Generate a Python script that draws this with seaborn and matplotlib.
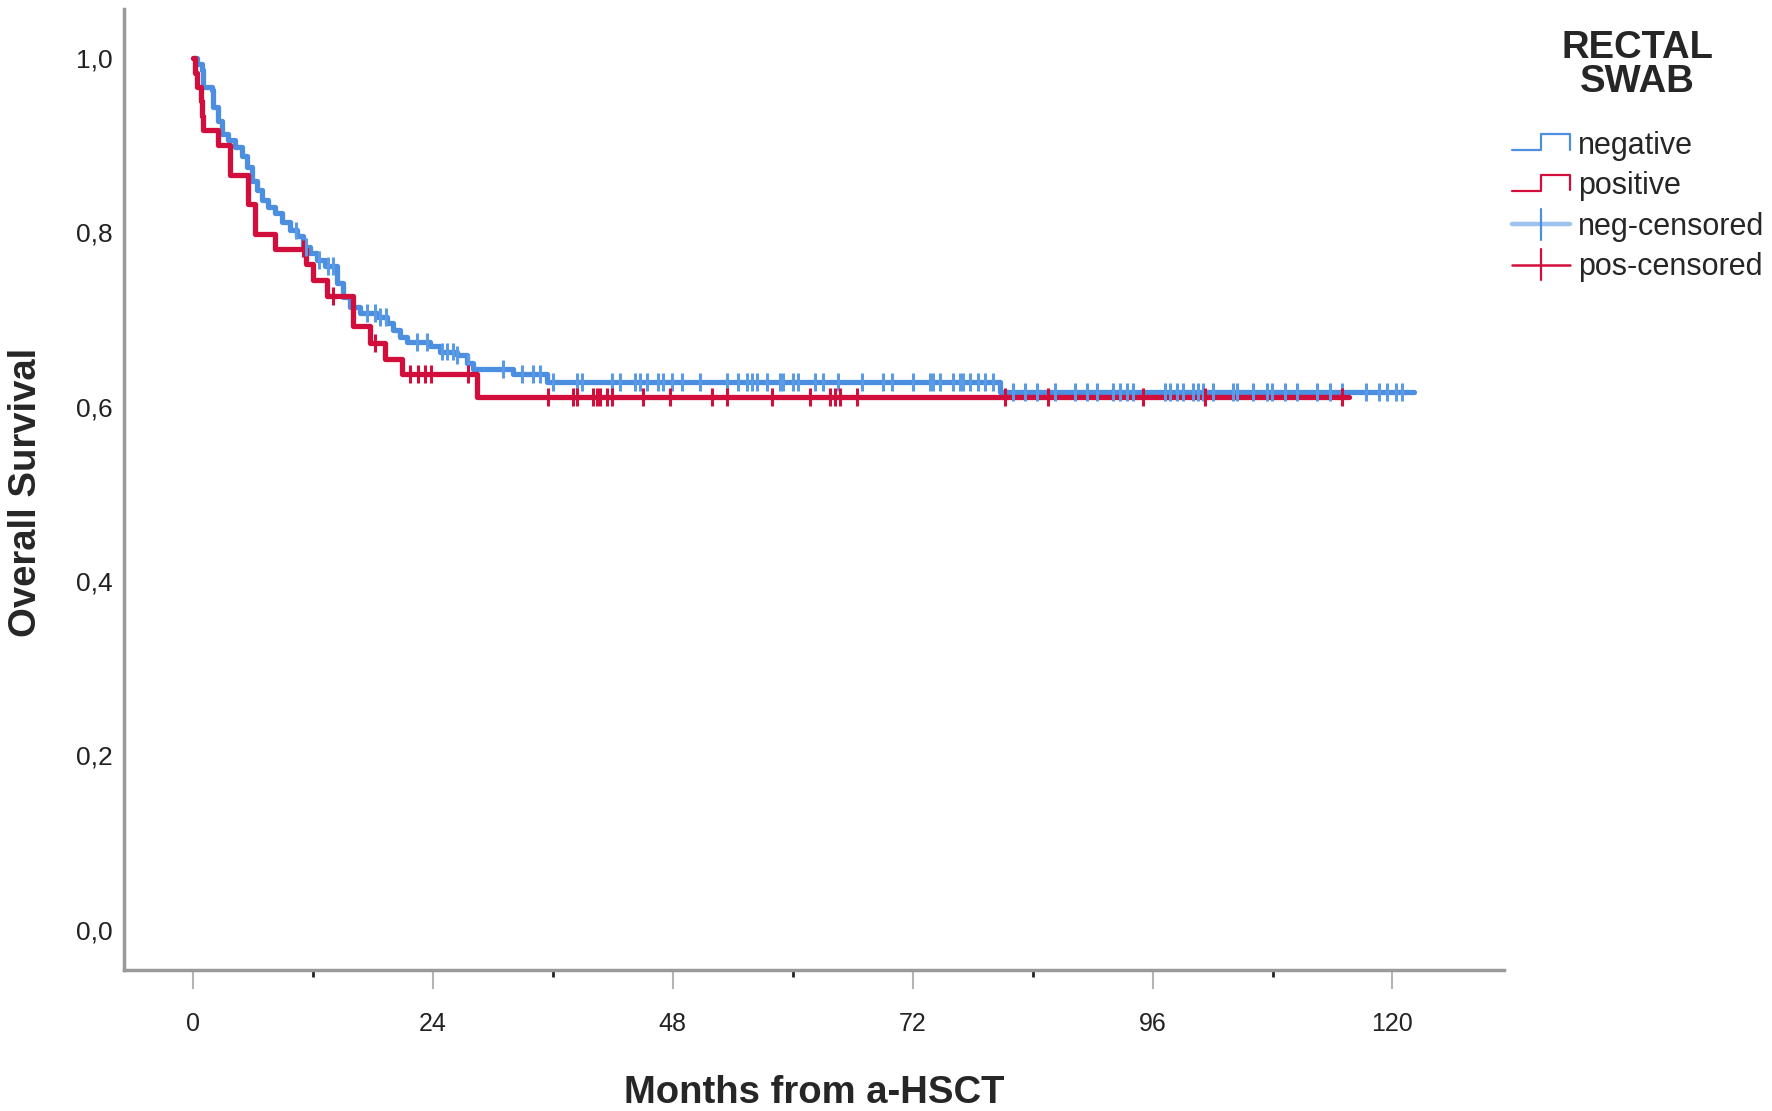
import numpy as np
import pandas as pd
import matplotlib
matplotlib.use('Agg')
import matplotlib.pyplot as plt
from matplotlib.lines import Line2D
from matplotlib.legend_handler import HandlerBase
import seaborn as sns

# ------------------- data -------------------
groups = ['negative', 'positive']

# rectal swab negative: step times (months) and survival after each step
neg_time = [0, 0.4, 0.9, 1.0, 1.9, 2.0, 2.5, 2.9, 3.5, 4.2, 4.9, 5.4, 5.9, 6.4,
            6.9, 7.5, 8.2, 8.9, 9.7, 10.4, 11.0, 11.7, 12.4, 13.2, 14.4, 15.0,
            15.7, 16.7, 18.4, 19.4, 20.0, 20.7, 21.4, 23.7, 24.7, 26.4, 27.4,
            28.0, 32.0, 35.4, 80.7]
neg_surv = [1.0, 0.993, 0.986, 0.967, 0.963, 0.944, 0.928, 0.913, 0.906, 0.898,
            0.887, 0.875, 0.859, 0.848, 0.837, 0.829, 0.822, 0.812, 0.802, 0.795,
            0.783, 0.776, 0.768, 0.761, 0.742, 0.726, 0.714, 0.707, 0.703, 0.696,
            0.688, 0.680, 0.674, 0.669, 0.663, 0.659, 0.650, 0.643, 0.637, 0.628,
            0.617]
neg_end = 122.2

# rectal swab positive
pos_time = [0, 0.2, 0.4, 0.8, 0.9, 1.0, 2.5, 3.7, 5.5, 6.2, 8.2, 11.3, 12.0,
            13.4, 16.0, 17.7, 19.2, 20.9, 28.4]
pos_surv = [1.0, 0.983, 0.967, 0.950, 0.933, 0.917, 0.900, 0.866, 0.832, 0.798,
            0.781, 0.764, 0.745, 0.727, 0.692, 0.673, 0.655, 0.637, 0.611]
pos_end = 115.7

# censored observations (months)
neg_censor = [10.3, 11.3, 12.6, 13.5, 14.0, 17.4, 18.2, 18.7, 19.3, 22.4, 23.4,
              24.9, 25.4, 26.0, 26.4, 27.5, 31.0, 32.9, 34.0, 34.7, 36.0, 38.4,
              38.9, 41.9, 42.7, 44.2, 44.7, 45.4, 46.5, 47.0, 47.9, 48.9, 50.7,
              53.4, 54.5, 55.4, 55.9, 56.4, 57.4, 58.7, 59.0, 60.0, 60.5, 62.2,
              63.0, 64.5, 66.9, 69.0, 69.9, 72.0, 73.7, 74.0, 74.7, 76.0, 76.7,
              77.0, 77.7, 78.5, 79.2, 80.0, 82.0, 83.2, 84.4, 86.2, 88.2, 89.4,
              90.4, 92.0, 92.7, 93.4, 94.0, 97.2, 97.7, 98.4, 99.0, 100.0, 100.5,
              101.0, 102.0, 104.0, 104.4, 106.0, 107.4, 107.9, 109.2, 110.4,
              112.4, 113.7, 115.0, 117.4, 118.7, 119.5, 120.4, 121.0]
pos_censor = [11.0, 14.0, 18.2, 21.7, 22.5, 23.2, 23.8, 27.5, 35.5, 38.0, 38.4,
              40.0, 40.4, 40.7, 41.4, 41.9, 45.0, 47.7, 51.9, 53.4, 57.9, 61.7,
              63.7, 64.2, 64.7, 66.4, 81.2, 85.5, 95.0, 101.2, 114.9]

x_ticks = [0, 24, 48, 72, 96, 120]
x_minor = [12, 36, 60, 84, 108]
y_ticks = [0.0, 0.2, 0.4, 0.6, 0.8, 1.0]
legend_labels = ['negative', 'positive', 'neg-censored', 'pos-censored']

BLUE = '#4C8FE0'
LIGHT_BLUE = '#9CC3EF'
RED = '#D20F3C'


def curve_frame(times, surv, end, name):
    t = list(times) + [end]
    s = list(surv) + [surv[-1]]
    return pd.DataFrame({'time': t, 'surv': s, 'group': name})


def censor_frame(times, surv, cens, name):
    idx = np.searchsorted(times, cens, side='right') - 1
    return pd.DataFrame({'time': cens, 'surv': np.asarray(surv)[idx], 'group': name})


curves = pd.concat([curve_frame(neg_time, neg_surv, neg_end, groups[0]),
                    curve_frame(pos_time, pos_surv, pos_end, groups[1])])
censors = pd.concat([censor_frame(neg_time, neg_surv, neg_censor, groups[0]),
                     censor_frame(pos_time, pos_surv, pos_censor, groups[1])])


# legend handlers: SPSS-like step icon and censor cross
class StepHandler(HandlerBase):
    def create_artists(self, legend, orig_handle, xdescent, ydescent,
                       width, height, fontsize, trans):
        x0 = -xdescent
        yc = -ydescent + height / 2
        xs = [x0, x0 + 0.5 * width, x0 + 0.5 * width, x0 + width, x0 + width]
        ys = [yc - 0.22 * fontsize, yc - 0.22 * fontsize, yc + 0.3 * fontsize,
              yc + 0.3 * fontsize, yc - 0.2 * fontsize]
        line = Line2D(xs, ys, color=orig_handle.get_color(), lw=1.6)
        line.set_transform(trans)
        return [line]


class CensorHandler(HandlerBase):
    def __init__(self, line_color, line_width, **kw):
        super().__init__(**kw)
        self.line_color = line_color
        self.line_width = line_width

    def create_artists(self, legend, orig_handle, xdescent, ydescent,
                       width, height, fontsize, trans):
        x0 = -xdescent
        yc = -ydescent + height / 2
        hline = Line2D([x0, x0 + width], [yc, yc], color=self.line_color,
                       lw=self.line_width)
        vline = Line2D([x0 + 0.5 * width] * 2, [yc - 0.5 * fontsize, yc + 0.5 * fontsize],
                       color=orig_handle.get_color(), lw=1.6)
        hline.set_transform(trans)
        vline.set_transform(trans)
        return [hline, vline]


# ------------------- plot -------------------
sns.set_style('white')
plt.rcParams['font.family'] = ['Liberation Sans', 'DejaVu Sans']

fig = plt.figure(figsize=(17.72, 11.11), dpi=100)
ax = fig.add_axes([0.070, 0.127, 0.779, 0.865])

sns.lineplot(data=curves, x='time', y='surv', hue='group',
             palette={groups[0]: BLUE, groups[1]: RED}, estimator=None,
             drawstyle='steps-post', lw=3.8, legend=False, ax=ax)
sns.scatterplot(data=censors, x='time', y='surv', hue='group',
                palette={groups[0]: '#5B9AE4', groups[1]: RED},
                marker='|', s=160, linewidth=2.2, legend=False, ax=ax, zorder=3)

ax.set_xlim(-6.9, 131.2)
ax.set_ylim(-0.046, 1.056)

ax.set_xticks(x_ticks)
ax.set_xticks(x_minor, minor=True)
ax.set_xticklabels([str(v) for v in x_ticks])
ax.set_yticks(y_ticks)
ax.set_yticklabels([f'{v:.1f}'.replace('.', ',') for v in y_ticks])

ax.tick_params(axis='x', which='major', direction='out', length=14, width=1.5,
               color='#b5b5b5', pad=16, labelsize=18, labelcolor='#222222', bottom=True)
ax.tick_params(axis='x', which='minor', direction='out', length=5, width=2,
               color='#222222', bottom=True)
ax.tick_params(axis='y', length=0, pad=8, labelsize=19, labelcolor='#222222')

sns.despine(ax=ax)
for side in ['left', 'bottom']:
    ax.spines[side].set_color('#9a9a9a')
    ax.spines[side].set_linewidth(2.5)

ax.set_xlabel('Months from a-HSCT', fontsize=27.5, fontweight='bold')
ax.set_ylabel('Overall Survival', fontsize=27.5, fontweight='bold')
ax.xaxis.label.set_va('center')
ax.yaxis.label.set_va('center')
ax.xaxis.set_label_coords(0.500, -0.128)
ax.yaxis.set_label_coords(-0.071, 0.497)

# legend
fig.text(0.9238, 0.9415, 'RECTAL\nSWAB', ha='center', va='center',
         fontsize=27.5, fontweight='bold', linespacing=0.95)

h_neg = Line2D([], [], color=BLUE)
h_pos = Line2D([], [], color=RED)
h_negc = Line2D([], [], color=BLUE)
h_posc = Line2D([], [], color=RED)
ax.legend([h_neg, h_pos, h_negc, h_posc], legend_labels,
          handler_map={h_neg: StepHandler(), h_pos: StepHandler(),
                       h_negc: CensorHandler(LIGHT_BLUE, 3.2),
                       h_posc: CensorHandler(RED, 1.8)},
          loc='upper left', bbox_to_anchor=(0.8533, 0.883),
          bbox_transform=fig.transFigure, frameon=False, fontsize=22,
          borderpad=0, borderaxespad=0, handlelength=1.9, handleheight=1.0,
          handletextpad=0.27, labelspacing=0.30)

plt.savefig('out.png', dpi=100)
